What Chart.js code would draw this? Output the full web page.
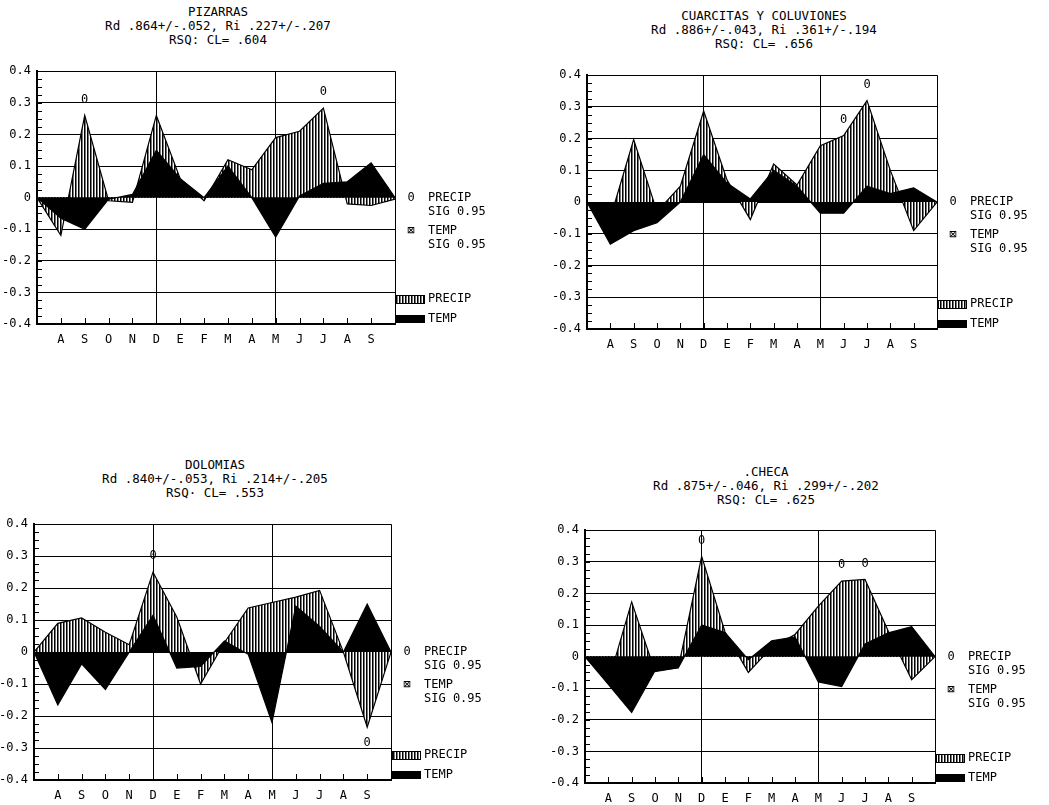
<!DOCTYPE html>
<html>
<head>
<meta charset="utf-8">
<script src="https://cdn.jsdelivr.net/npm/chart.js@4/dist/chart.umd.min.js"></script>
<style>
  html, body { margin: 0; padding: 0; background: #fff; }
  body { width: 1049px; height: 805px; position: relative; overflow: hidden;
         font-family: 'DejaVu Sans Mono', 'Liberation Mono', monospace; color: #000; }
  canvas { position: absolute; }
  .title { position: absolute; width: 420px; text-align: center; font-size: 12.5px;
           line-height: 14px; white-space: pre; }
</style>
</head>
<body>
<script>
// ---------- data ----------
const months = ['', 'A', 'S', 'O', 'N', 'D', 'E', 'F', 'M', 'A', 'M', 'J', 'J', 'A', 'S', ''];
const yMin = -0.4, yMax = 0.4, yStep = 0.1;

const pizarrasTitle = ['PIZARRAS', 'Rd .864+/-.052, Ri .227+/-.207', 'RSQ: CL= .604'];
const pizarrasPrecip = [0, -0.12, 0.26, -0.01, -0.015, 0.26, 0.06, -0.01, 0.12, 0.088, 0.19, 0.21, 0.283, -0.02, -0.025, -0.005];
const pizarrasTemp   = [0, -0.065, -0.10, -0.005, 0.01, 0.15, 0.06, 0, 0.10, 0, -0.125, 0.005, 0.045, 0.05, 0.11, 0];
const pizarrasSig    = [0, 0, 1, 0, 0, 0, 0, 0, 0, 0, 0, 0, 1, 0, 0, 0];

const cuarcitasTitle = ['CUARCITAS Y COLUVIONES', 'Rd .886+/-.043, Ri .361+/-.194', 'RSQ: CL= .656'];
const cuarcitasPrecip = [0, -0.05, 0.197, -0.03, 0.05, 0.287, 0.07, -0.055, 0.12, 0.054, 0.178, 0.21, 0.32, 0.10, -0.09, 0];
const cuarcitasTemp   = [0, -0.133, -0.09, -0.065, 0, 0.15, 0.06, 0.01, 0.10, 0.05, -0.035, -0.035, 0.05, 0.027, 0.045, 0];
const cuarcitasSig    = [0, 0, 0, 0, 0, 0, 0, 0, 0, 0, 0, 1, 1, 0, 0, 0];

const dolomiasTitle = ['DOLOMIAS', 'Rd .840+/-.053, Ri .214+/-.205', 'RSQ· CL= .553'];
const dolomiasPrecip = [0, 0.09, 0.107, 0.062, 0.023, 0.25, 0.11, -0.10, 0.03, 0.138, 0.155, 0.172, 0.193, 0, -0.235, 0];
const dolomiasTemp   = [0, -0.165, -0.037, -0.117, 0, 0.115, -0.05, -0.045, 0.035, -0.007, -0.22, 0.144, 0.08, 0, 0.15, 0];
const dolomiasSig    = [0, 0, 0, 0, 0, 1, 0, 0, 0, 0, 0, 0, 0, 0, -1, 0];

const checaTitle = ['.CHECA', 'Rd .875+/-.046, Ri .299+/-.202', 'RSQ: CL= .625'];
const checaPrecip = [0, -0.08, 0.173, -0.047, -0.035, 0.317, 0.078, -0.05, 0.03, 0.07, 0.16, 0.239, 0.244, 0.08, -0.073, 0];
const checaTemp   = [0, -0.088, -0.177, -0.045, -0.035, 0.10, 0.076, -0.01, 0.05, 0.062, -0.08, -0.095, 0.04, 0.075, 0.095, 0];
const checaSig    = [0, 0, 0, 0, 0, 1, 0, 0, 0, 0, 0, 1, 1, 0, 0, 0];

// ---------- layout (page coords of plot areas) ----------
const panels = [
  { title: pizarrasTitle,  precip: pizarrasPrecip,  temp: pizarrasTemp,  sig: pizarrasSig,
    L: 37, T: 68, R: 395, B: 324, tx: 218, ty: 5 },
  { title: cuarcitasTitle, precip: cuarcitasPrecip, temp: cuarcitasTemp, sig: cuarcitasSig,
    L: 587, T: 72, R: 937, B: 329, tx: 764, ty: 9 },
  { title: dolomiasTitle,  precip: dolomiasPrecip,  temp: dolomiasTemp,  sig: dolomiasSig,
    L: 34, T: 521, R: 391, B: 780, tx: 215, ty: 458 },
  { title: checaTitle,     precip: checaPrecip,     temp: checaTemp,     sig: checaSig,
    L: 585, T: 527, R: 935, B: 783, tx: 766, ty: 465 }
];

const FONT = "'DejaVu Sans Mono', 'Liberation Mono', monospace";
Chart.defaults.font.family = FONT;
Chart.defaults.font.size = 12;
Chart.defaults.color = '#000';

function hatchPattern(ctx) {
  const c = document.createElement('canvas');
  c.width = 3; c.height = 3;
  const g = c.getContext('2d');
  g.fillStyle = '#fff'; g.fillRect(0, 0, 3, 3);
  g.fillStyle = '#000'; g.fillRect(0, 0, 1, 3);
  g.fillStyle = '#777'; g.fillRect(1, 0, 1, 3);
  return ctx.createPattern(c, 'repeat');
}

const decorPlugin = {
  id: 'decor',
  afterDatasetsDraw(chart, args, opts) {
    const ctx = chart.ctx, a = chart.chartArea;
    const xs = chart.scales.x, ys = chart.scales.y;
    ctx.save();
    ctx.strokeStyle = '#000'; ctx.lineWidth = 1;
    // inner x ticks
    for (let i = 1; i < months.length - 1; i++) {
      const x = Math.round(xs.getPixelForValue(i)) + 0.5;
      ctx.beginPath(); ctx.moveTo(x, a.bottom); ctx.lineTo(x, a.bottom - 6); ctx.stroke();
    }
    // inner y minor ticks
    for (let k = 0; k <= 32; k++) {
      const v = yMin + k * 0.025;
      const y = Math.round(ys.getPixelForValue(v)) + 0.5;
      ctx.beginPath(); ctx.moveTo(a.left + 1, y); ctx.lineTo(a.left + 5, y); ctx.stroke();
    }
    // significance markers
    ctx.fillStyle = '#000';
    ctx.font = '12px ' + FONT;
    ctx.textAlign = 'center'; ctx.textBaseline = 'middle';
    opts.sig.forEach((s, i) => {
      if (!s) return;
      const v = opts.precip[i] + 0.05 * s;
      ctx.fillText('0', xs.getPixelForValue(i), ys.getPixelForValue(v));
    });
    // legend
    const x0 = a.right, zy = ys.getPixelForValue(0);
    ctx.textAlign = 'center';
    ctx.fillText('0', x0 + 16, zy);
    ctx.fillText('\u22A0', x0 + 16, zy + 33);
    ctx.textAlign = 'left';
    ctx.fillText('PRECIP', x0 + 33, zy);
    ctx.fillText('SIG 0.95', x0 + 33, zy + 14);
    ctx.fillText('TEMP', x0 + 33, zy + 33);
    ctx.fillText('SIG 0.95', x0 + 33, zy + 47);
    ctx.fillStyle = hatchPattern(ctx);
    ctx.fillRect(x0 + 1, a.bottom - 29, 29, 9);
    ctx.strokeRect(x0 + 1.5, a.bottom - 28.5, 28, 8);
    ctx.fillStyle = '#000';
    ctx.fillRect(x0 + 1, a.bottom - 9, 29, 8);
    ctx.fillText('PRECIP', x0 + 33, a.bottom - 25);
    ctx.fillText('TEMP', x0 + 33, a.bottom - 5);
    ctx.restore();
  }
};

const Y_W = 37, PAD_T = 10, X_H = 28, PAD_R = 110;

panels.forEach(p => {
  // title
  const t = document.createElement('div');
  t.className = 'title';
  t.style.left = (p.tx - 210) + 'px';
  t.style.top = p.ty + 'px';
  t.textContent = p.title.join('\n');
  document.body.appendChild(t);

  const cv = document.createElement('canvas');
  const w = p.R - p.L + Y_W + PAD_R, h = p.B - p.T + PAD_T + X_H;
  cv.width = w; cv.height = h;
  cv.style.width = w + 'px'; cv.style.height = h + 'px';
  cv.style.left = (p.L - Y_W) + 'px';
  cv.style.top = (p.T - PAD_T) + 'px';
  document.body.appendChild(cv);
  const ctx = cv.getContext('2d');

  new Chart(ctx, {
    type: 'line',
    data: {
      labels: months,
      datasets: [
        { label: 'TEMP', data: p.temp, order: 0, borderColor: '#000', borderWidth: 1.2,
          backgroundColor: '#000', fill: 'origin', pointRadius: 0, tension: 0 },
        { label: 'PRECIP', data: p.precip, order: 1, borderColor: '#000', borderWidth: 1.2,
          backgroundColor: hatchPattern(ctx), fill: 'origin', pointRadius: 0, tension: 0 }
      ]
    },
    options: {
      responsive: false, animation: false, devicePixelRatio: 1,
      layout: { padding: { top: PAD_T, right: PAD_R, left: 0, bottom: 0 } },
      plugins: { legend: { display: false }, tooltip: { enabled: false },
                 decor: { sig: p.sig, precip: p.precip } },
      scales: {
        x: {
          offset: false,
          afterFit: s => { s.height = X_H; },
          grid: { drawTicks: false, lineWidth: 1,
                  color: c => ([0, 5, 10, 15].includes(c.index) ? '#000' : 'rgba(0,0,0,0)') },
          border: { display: true, color: '#000', width: 2 },
          ticks: { autoSkip: false, maxRotation: 0, padding: 9, font: { size: 12 } }
        },
        y: {
          min: yMin, max: yMax,
          afterFit: s => { s.width = Y_W; },
          grid: { drawTicks: false, color: '#000', lineWidth: 1 },
          border: { display: true, color: '#000', width: 2 },
          ticks: { stepSize: yStep, padding: 6, font: { size: 12 },
                   callback: v => { const r = Math.round(v * 10) / 10; return r === 0 ? '0' : r.toFixed(1); } }
        }
      }
    },
    plugins: [decorPlugin]
  });
});
</script>
</body>
</html>
